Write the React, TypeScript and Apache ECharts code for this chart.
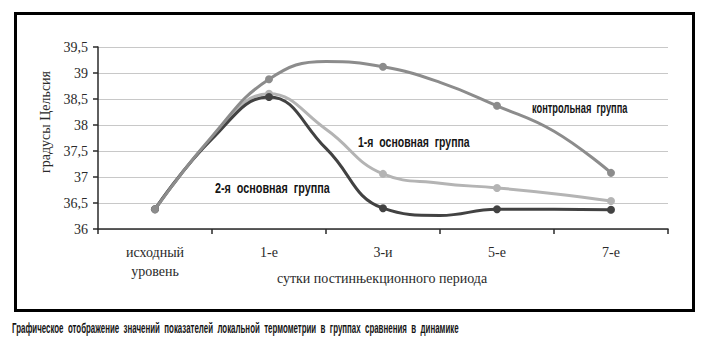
import React, { useEffect, useRef } from "react";
import * as echarts from "echarts";

const categories = ["исходный\nуровень", "1-е", "3-и", "5-е", "7-е"];
// positions along the day axis (category centres at .5, intermediate points between)
const xPos = [0.5, 1, 1.5, 2, 2.5, 3, 3.5, 4, 4.5];
const markerIdx = [0, 2, 4, 6, 8];
const controlGroup = [36.38, 37.78, 38.88, 39.22, 39.12, 38.82, 38.37, 37.88, 37.08];
const mainGroup1 = [36.38, 37.75, 38.6, 37.92, 37.06, 36.88, 36.79, 36.68, 36.54];
const mainGroup2 = [36.38, 37.73, 38.54, 37.55, 36.4, 36.26, 36.38, 36.38, 36.37];
const yTicks = { min: 36, max: 39.5, interval: 0.5 };

const seriesNames = ["контрольная группа", "1-я основная группа", "2-я основная группа"];

const serif = "'Liberation Serif', 'Times New Roman', serif";
const narrow = "'Liberation Sans', Arial, sans-serif";

function mkData(vals: number[]) {
  return vals.map((v, i) => {
    const isMain = markerIdx.indexOf(i) >= 0;
    return isMain ? { value: [xPos[i], v] } : { value: [xPos[i], v], symbol: "none" };
  });
}

export default function App() {
  const ref = useRef<HTMLDivElement>(null);
  useEffect(() => {
    if (!ref.current) return;
    const chart = echarts.init(ref.current, undefined, { renderer: "svg" });
    const lineSeries = (name: string, vals: number[], color: string, z: number) => ({
      name,
      type: "line",
      xAxisIndex: 1,
      data: mkData(vals),
      smooth: 0.45,
      symbol: "circle",
      symbolSize: 8,
      z,
      lineStyle: { color, width: 3 },
      itemStyle: { color },
    });
    const note = (text: string, x: number, y: number, scaleX: number, fontSize: number) => ({
      type: "text",
      x,
      y,
      scaleX,
      style: {
        text,
        fontFamily: narrow,
        fontSize,
        fontWeight: "bold",
        fill: "#151515",
        textAlign: "left",
        textVerticalAlign: "middle",
      },
    });
    chart.setOption({
      animation: false,
      backgroundColor: "#ffffff",
      grid: { left: 98, right: 36, top: 47, bottom: 128, containLabel: false },
      xAxis: [
        {
          type: "category",
          data: categories,
          boundaryGap: true,
          axisLine: { lineStyle: { color: "#2a2a2a", width: 1.5 } },
          axisTick: { show: true, length: 5, lineStyle: { color: "#2a2a2a", width: 1.5 } },
          axisLabel: {
            fontFamily: serif,
            fontSize: 14,
            color: "#2a2a2a",
            margin: 14,
            lineHeight: 19,
          },
          splitLine: { show: false },
        },
        {
          type: "value",
          min: 0,
          max: 5,
          show: false,
          splitLine: { show: false },
        },
      ],
      yAxis: {
        type: "value",
        min: yTicks.min,
        max: yTicks.max,
        interval: yTicks.interval,
        axisLine: { show: true, lineStyle: { color: "#2a2a2a", width: 1.5 } },
        axisTick: { show: true, length: 5, lineStyle: { color: "#2a2a2a", width: 1.5 } },
        axisLabel: {
          fontFamily: serif,
          fontSize: 14,
          color: "#2a2a2a",
          margin: 10,
          formatter: (v: number) => String(v).replace(".", ","),
        },
        splitLine: { show: true, lineStyle: { color: "#c8c8c8", width: 1.2 } },
      },
      series: [
        lineSeries(seriesNames[1], mainGroup1, "#b4b4b4", 2),
        lineSeries(seriesNames[2], mainGroup2, "#424242", 3),
        lineSeries(seriesNames[0], controlGroup, "#8c8c8c", 4),
      ],
      graphic: [
        {
          type: "rect",
          shape: { x: 15.5, y: 13.5, width: 678, height: 297 },
          style: { fill: "none", stroke: "#000", lineWidth: 3 },
          z: 0,
        },
        {
          type: "text",
          x: 45,
          y: 122,
          rotation: Math.PI / 2,
          style: {
            text: "градусы Цельсия",
            fontFamily: serif,
            fontSize: 14,
            fill: "#2a2a2a",
            textAlign: "center",
            textVerticalAlign: "middle",
          },
        },
        {
          type: "text",
          x: 382,
          y: 278,
          style: {
            text: "сутки постинњекционного периода",
            fontFamily: serif,
            fontSize: 14,
            fill: "#2a2a2a",
            textAlign: "center",
            textVerticalAlign: "middle",
          },
        },
        note("контрольная  группа", 532, 108, 0.62, 15),
        note("1-я  основная  группа", 358, 142, 0.7, 15),
        note("2-я  основная  группа", 215, 188, 0.72, 15),
        note(
          "Графическое  отображение  значений  показателей  локальной  термометрии  в  группах  сравнения  в  динамике",
          12,
          328,
          0.565,
          14
        ),
      ],
    });
    return () => chart.dispose();
  }, []);
  return (
    <div
      ref={ref}
      style={{ position: "absolute", left: 0, top: 0, width: 704, height: 357, background: "#fff" }}
    />
  );
}
